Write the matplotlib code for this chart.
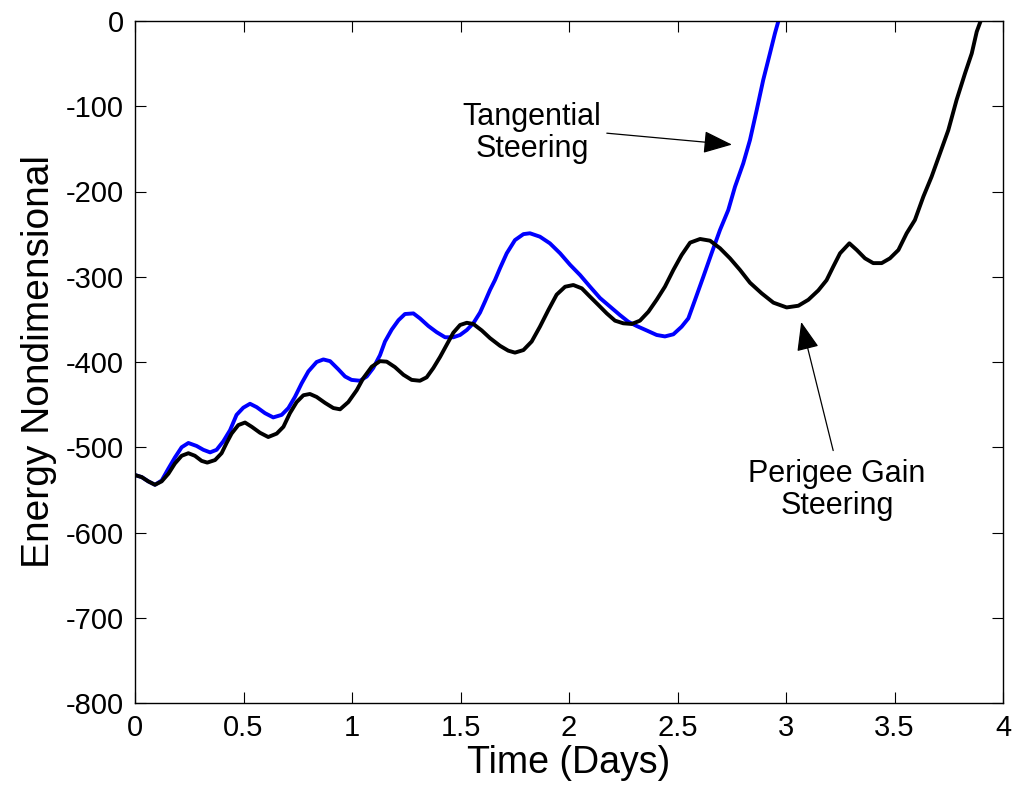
import matplotlib
matplotlib.use("Agg")
import matplotlib.pyplot as plt

# ---- data ----
t_perigee = [0.000, 0.031, 0.061, 0.092, 0.123, 0.154, 0.184, 0.215, 0.246, 0.276, 0.307, 0.333,
             0.369, 0.399, 0.422, 0.445, 0.476, 0.507, 0.538, 0.576, 0.614, 0.653, 0.684, 0.714,
             0.745, 0.776, 0.806, 0.837, 0.876, 0.914, 0.945, 0.983, 1.022, 1.052, 1.091, 1.129,
             1.160, 1.198, 1.237, 1.275, 1.313, 1.344, 1.375, 1.406, 1.436, 1.467, 1.498, 1.529,
             1.559, 1.598, 1.636, 1.682, 1.720, 1.751, 1.790, 1.828, 1.866, 1.905, 1.943, 1.982,
             2.020, 2.059, 2.097, 2.135, 2.174, 2.212, 2.250, 2.289, 2.327, 2.366, 2.404, 2.442,
             2.481, 2.519, 2.558, 2.604, 2.650, 2.696, 2.742, 2.788, 2.834, 2.888, 2.942, 3.003,
             3.057, 3.103, 3.149, 3.187, 3.218, 3.249, 3.292, 3.326, 3.364, 3.402, 3.441, 3.479,
             3.518, 3.556, 3.594, 3.633, 3.671, 3.710, 3.748, 3.786, 3.825, 3.856, 3.879, 3.897]
e_perigee = [-532.6, -535, -540, -544, -540, -531, -519, -510, -507, -510, -516, -518,
             -515, -507, -495, -484, -474, -471, -476, -483, -488, -484, -476, -460,
             -447, -439, -437.5, -441, -448, -454, -455.5, -447, -433, -419, -405.5, -399,
             -399.6, -406, -415, -421, -422, -418, -407, -394, -380, -365.6, -356.6, -354,
             -355.4, -363, -372, -381, -386.7, -389, -386, -376, -358.6, -339, -321, -311.7,
             -309.7, -313.6, -323.4, -333, -343, -351.5, -354.6, -355.4, -351.5, -341, -327, -311.7,
             -292, -274.5, -260, -255.7, -257.7, -266.6, -278.4, -292, -307, -319.5, -330.4, -336,
             -334, -327, -316, -304, -288, -272.5, -260.8, -268.6, -278.4, -284, -284, -278.4,
             -268.6, -249, -233.4, -206, -182.6, -155, -128, -92.7, -61.4, -38, -12.5, 0]

t_tangential = [0.000, 0.031, 0.061, 0.092, 0.123, 0.154, 0.184, 0.215, 0.246, 0.284, 0.315,
                0.346, 0.376, 0.407, 0.438, 0.468, 0.499, 0.530, 0.561, 0.599, 0.637, 0.676,
                0.707, 0.737, 0.768, 0.799, 0.837, 0.868, 0.899, 0.937, 0.968, 0.998, 1.037,
                1.068, 1.098, 1.129, 1.152, 1.183, 1.214, 1.244, 1.283, 1.313, 1.352, 1.390,
                1.429, 1.467, 1.498, 1.529, 1.559, 1.590, 1.613, 1.636, 1.659, 1.682, 1.713,
                1.751, 1.790, 1.820, 1.866, 1.912, 1.959, 2.005, 2.051, 2.097, 2.143, 2.189,
                2.235, 2.273, 2.312, 2.358, 2.404, 2.442, 2.481, 2.519, 2.550, 2.581, 2.619,
                2.657, 2.696, 2.734, 2.765, 2.803, 2.834, 2.865, 2.895, 2.926, 2.949, 2.965]
e_tangential = [-532.6, -535, -540, -544, -539, -525, -512, -500, -495, -498.5, -503,
                -506, -503, -493, -480, -462, -453.6, -449, -453, -460, -465, -462,
                -454, -441, -425, -411, -400, -397, -399, -408.6, -417, -421, -422,
                -417, -407, -392, -376, -362, -351, -343.7, -343, -348.8, -357.8, -365,
                -371, -371, -368.3, -362.5, -354.6, -342, -329, -315.5, -303.8, -290, -272.5,
                -257, -250, -249, -253, -260.8, -272.5, -286, -298, -311.7, -325, -335,
                -345, -352.7, -357.8, -363, -368.3, -370, -367.5, -358.6, -348.8, -327, -300,
                -272.5, -245, -221.7, -194.4, -167, -139.6, -104.4, -69.2, -38, -14.5, 0]

x_ticks = [0, 0.5, 1, 1.5, 2, 2.5, 3, 3.5, 4]
x_tick_labels = ["0", "0.5", "1", "1.5", "2", "2.5", "3", "3.5", "4"]
y_ticks = [-800, -700, -600, -500, -400, -300, -200, -100, 0]
y_tick_labels = ["-800", "-700", "-600", "-500", "-400", "-300", "-200", "-100", "0"]

plt.rcParams["font.family"] = ["Liberation Sans", "DejaVu Sans"]

fig = plt.figure(figsize=(10.13, 7.93), dpi=100)
ax = fig.add_axes([135/1013, 1 - 703/793, (1003-135)/1013, (703-21)/793])

ax.plot(t_tangential, e_tangential, color=(0, 0, 1), lw=2.8, solid_joinstyle="round",
        solid_capstyle="round")
ax.plot(t_perigee, e_perigee, color="black", lw=2.8, solid_joinstyle="round",
        solid_capstyle="round")

ax.set_xlim(0, 4)
ax.set_ylim(-800, 0)
ax.set_xticks(x_ticks)
ax.set_xticklabels(x_tick_labels, fontsize=21)
ax.set_yticks(y_ticks)
ax.set_yticklabels(y_tick_labels, fontsize=21)
ax.tick_params(direction="in", length=8, width=0.8, top=True, right=True, pad=8)
for s in ax.spines.values():
    s.set_linewidth(1.0)

ax.set_xlabel("Time (Days)", fontsize=27, labelpad=2)
ax.set_ylabel("Energy Nondimensional", fontsize=28, labelpad=6)

ax.annotate("Tangential\nSteering", xy=(2.751, -145), xytext=(1.829, -131),
            ha="center", va="center", fontsize=22, linespacing=1.1,
            arrowprops=dict(arrowstyle="-|>,head_length=0.9,head_width=0.35", color="black",
                            lw=0.9, shrinkA=2, shrinkB=0, relpos=(1.0, 0.5), mutation_scale=20))
ax.annotate("Perigee Gain\nSteering", xy=(3.07, -353), xytext=(3.235, -550),
            ha="center", va="center", fontsize=22, linespacing=1.1,
            arrowprops=dict(arrowstyle="-|>,head_length=0.9,head_width=0.35", color="black",
                            lw=0.9, shrinkA=4, shrinkB=0, relpos=(0.49, 1.0), mutation_scale=20))

fig.savefig("out.png", dpi=100)
